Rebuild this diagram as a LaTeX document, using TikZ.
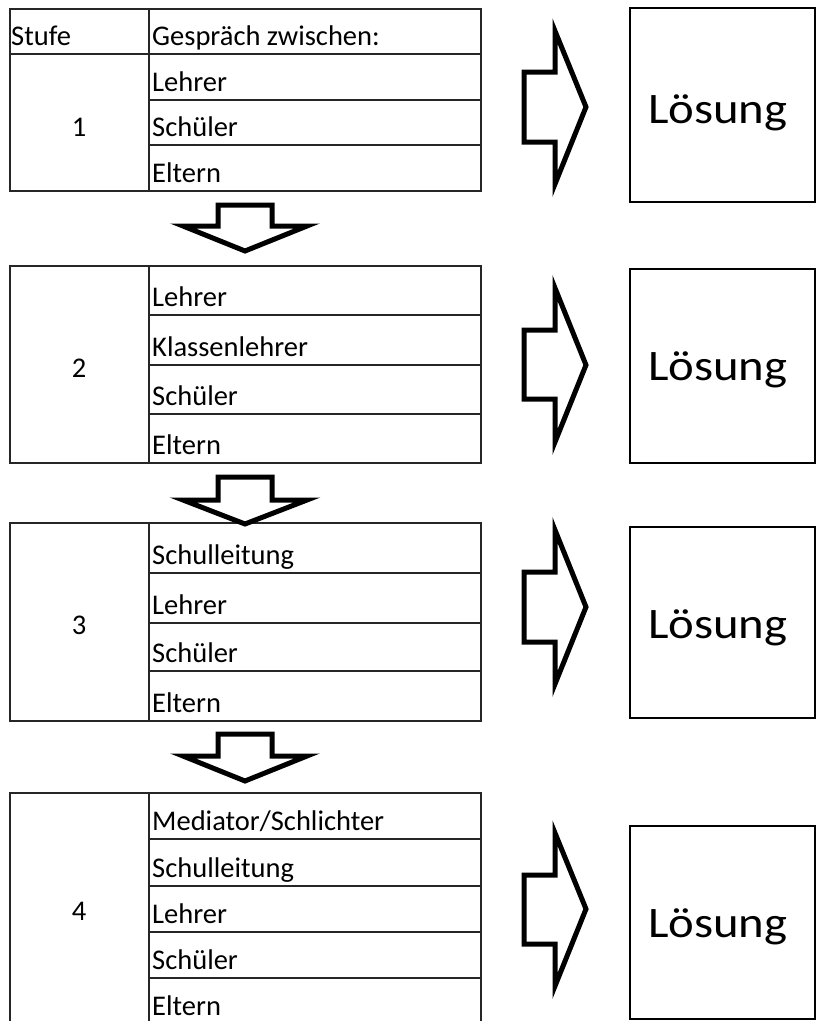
\documentclass[tikz,border=0pt]{standalone}
\usepackage{fontspec}
\setmainfont{Carlito}
\begin{document}
\begin{tikzpicture}[x=1pt,y=-1pt,
  tab/.style={draw=black!85,line width=1.3pt},
  cell/.style={anchor=base west,inner sep=0pt,font=\fontsize{28.5}{30}\selectfont},
  num/.style={anchor=center,inner sep=0pt,font=\fontsize{28.5}{30}\selectfont},
  blk/.style={draw=black,line width=5pt,line join=miter,fill=white},
  sol/.style={draw=black,line width=2pt,fill=white},
  soltext/.style={anchor=base west,inner sep=0pt,font=\fontsize{43.5}{45}\selectfont}]
\useasboundingbox (0,0) rectangle (817,1021);
\fill[white] (0,0) rectangle (817,1021);

% ---- Table 1 ----
\draw[tab] (10,9) rectangle (481,191);
\draw[tab] (149,9) -- (149,191);
\draw[tab] (10,54) -- (481,54);
\foreach \y in {100,145} \draw[tab] (149,\y) -- (481,\y);
\node[cell] (h1) at (11,45) {Stufe};
\node[cell] (h2) at (152,45) {Gespräch zwischen:};
\node[num] (n1) at (79,127) {1};
\node[cell] (a1) at (152,91) {Lehrer};
\node[cell] (a2) at (152,136) {Schüler};
\node[cell] (a3) at (152,182) {Eltern};

% ---- Table 2 ----
\draw[tab] (10,266) rectangle (481,463);
\draw[tab] (149,266) -- (149,463);
\foreach \y in {315,365,414} \draw[tab] (149,\y) -- (481,\y);
\node[num] (n2) at (79,368) {2};
\node[cell] (b1) at (152,306) {Lehrer};
\node[cell] (b2) at (152,356) {Klassenlehrer};
\node[cell] (b3) at (152,405) {Schüler};
\node[cell] (b4) at (152,454) {Eltern};

% ---- Table 3 ----
\draw[tab] (10,523) rectangle (481,721);
\draw[tab] (149,523) -- (149,721);
\foreach \y in {573,623,671} \draw[tab] (149,\y) -- (481,\y);
\node[num] (n3) at (79,625) {3};
\node[cell] (c1) at (152,564) {Schulleitung};
\node[cell] (c2) at (152,614) {Lehrer};
\node[cell] (c3) at (152,662) {Schüler};
\node[cell] (c4) at (152,712) {Eltern};

% ---- Table 4 ----
\draw[tab] (10,1025) -- (10,793) -- (481,793) -- (481,1025);
\draw[tab] (149,793) -- (149,1025);
\foreach \y in {839,886,932,978} \draw[tab] (149,\y) -- (481,\y);
\node[num] (n4) at (79,911) {4};
\node[cell] (d1) at (152,830) {Mediator/Schlichter};
\node[cell] (d2) at (152,877) {Schulleitung};
\node[cell] (d3) at (152,923) {Lehrer};
\node[cell] (d4) at (152,969) {Schüler};
\node[cell] (d5) at (152,1015) {Eltern};

% ---- down arrows ----
\foreach \t/\s/\p in {205/226/251, 477/500/524, 734/756/781}
  \draw[blk] (218,\t) -- (272,\t) -- (272,\s) -- (307,\s) -- (245,\p) -- (183,\s) -- (218,\s) -- cycle;

% ---- right arrows ----
\foreach \wt/\st/\tp/\sb/\wb in {31/72/107/142/184, 288/330/365/399/442, 530/572/607/642/684, 833/875/909/944/986}
  \draw[blk] (524,\st) -- (555,\st) -- (555,\wt) -- (586,\tp) -- (555,\wb) -- (555,\sb) -- (524,\sb) -- cycle;

% ---- solution boxes ----
\draw[sol] (630,8) rectangle (815,202);
\draw[sol] (630,269) rectangle (815,463);
\draw[sol] (630,527) rectangle (815,718);
\draw[sol] (630,826) rectangle (815,1019);
\node[soltext] (l1) at (648,123) {\scalebox{1.12}[1]{Lösung}};
\node[soltext] (l2) at (648,380) {\scalebox{1.12}[1]{Lösung}};
\node[soltext] (l3) at (648,638) {\scalebox{1.12}[1]{Lösung}};
\node[soltext] (l4) at (648,937) {\scalebox{1.12}[1]{Lösung}};
\end{tikzpicture}
\end{document}
